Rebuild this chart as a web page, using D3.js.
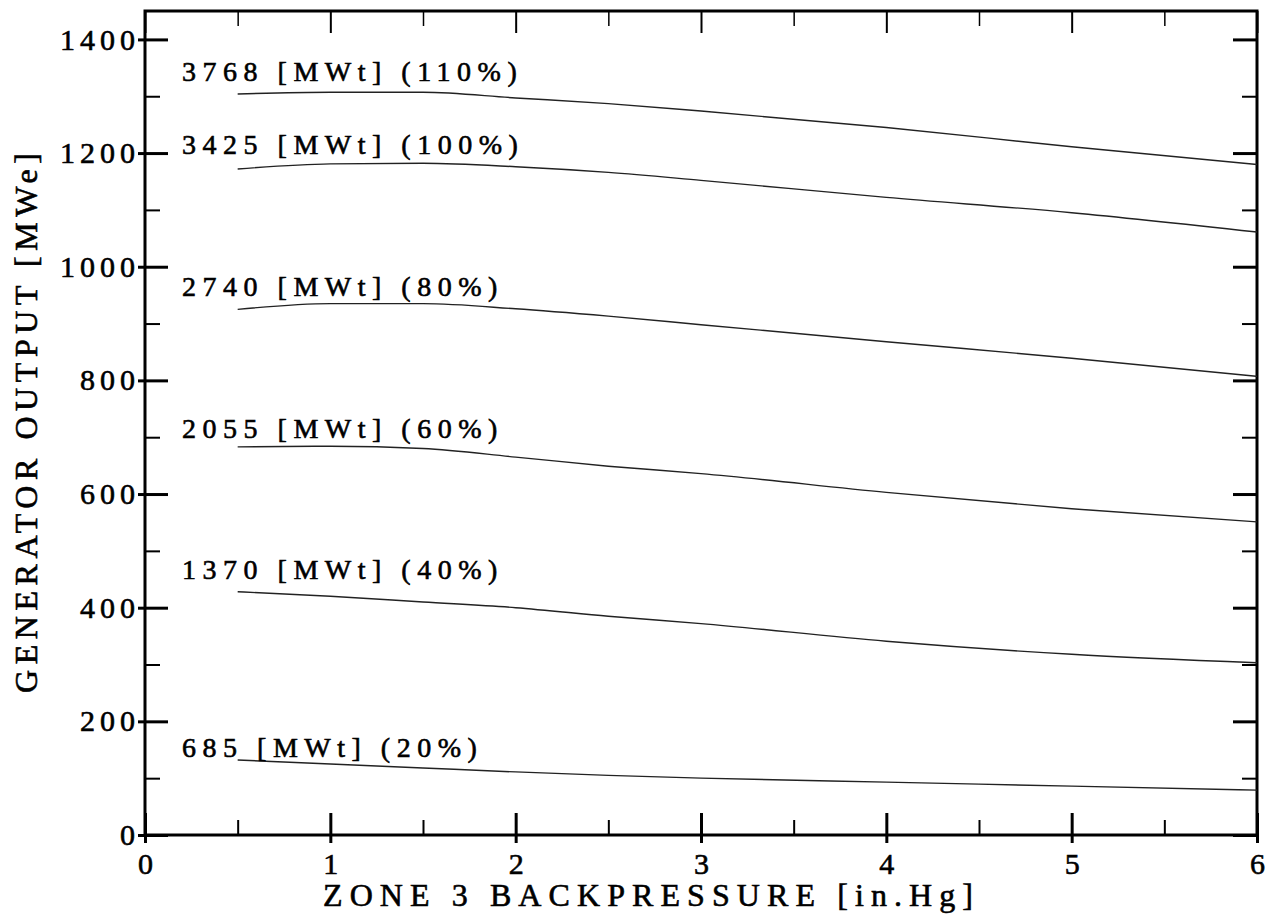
<!DOCTYPE html>
<html>
<head>
<meta charset="utf-8">
<script src="https://cdn.jsdelivr.net/npm/d3@7"></script>
<style>
  body { margin: 0; background: #fff; }
  text { font-family: "Liberation Serif", "DejaVu Serif", serif; fill: #000; stroke: #000; stroke-width: 0.6px; }
</style>
</head>
<body>
<div id="container"></div>
<script>
/* DATA */
const backpressure = [0.5, 1, 1.5, 2, 2.5, 3, 4, 5, 6];

const out110 = [1304, 1307, 1307, 1297, 1287, 1274, 1245, 1211, 1180];
const out100 = [1172, 1181, 1182, 1176, 1166, 1152, 1122, 1095, 1061];
const out80  = [925, 935, 935, 926, 913, 898, 868, 839, 807];
const out60  = [683, 684, 680, 665, 649, 636, 603, 574, 551];
const out40  = [428, 420, 410, 400, 385, 372, 341, 318, 303];
const out20  = [132, 125, 118, 111, 105, 100, 93, 86, 79];

const curveLabels = ["3768 [MWt] (110%)", "3425 [MWt] (100%)", "2740 [MWt] (80%)",
  "2055 [MWt] (60%)", "1370 [MWt] (40%)", "685 [MWt] (20%)"];
const labelX = 0.2;
const labelY = [1326, 1198, 948, 698, 450, 137];

const xTicks = [0, 1, 2, 3, 4, 5, 6];
const xMinor = [0.5, 1.5, 2.5, 3.5, 4.5, 5.5];
const yTicks = [0, 200, 400, 600, 800, 1000, 1200, 1400];
const yMinor = [100, 300, 500, 700, 900, 1100, 1300];

/* CONSTANTS */
const width = 1273, height = 920;
const margin = { top: 11, right: 16, bottom: 85, left: 145 };
const ls = 5; // letter spacing for tick labels

const svg = d3.select("#container").append("svg")
  .attr("width", width)
  .attr("height", height);

const xScale = d3.scaleLinear().domain([0, 6]).range([margin.left, width - margin.right]);
const yScale = d3.scaleLinear().domain([0, 1450]).range([height - margin.bottom, margin.top]);

const x0 = xScale(0), x1 = xScale(6), y0 = yScale(0), y1 = yScale(1450);

function clean(g) {
  g.select(".domain").remove();
  g.selectAll("line").attr("stroke", "#000");
}

// left axis: labels + short outside ticks
svg.append("g")
  .attr("transform", `translate(${x0},0)`)
  .call(d3.axisLeft(yScale).tickValues(yTicks).tickSize(7).tickPadding(3).tickFormat(d3.format("d")))
  .call(clean)
  .call(g => g.selectAll("line").attr("stroke-width", 3))
  .call(g => g.selectAll("text")
    .attr("font-size", 30)
    .attr("letter-spacing", ls).attr("dx", ls)
    .attr("font-family", null));

// left inside ticks
svg.append("g").attr("transform", `translate(${x0},0)`)
  .call(d3.axisRight(yScale).tickValues(yTicks).tickSize(23).tickFormat(""))
  .call(clean).call(g => g.selectAll("line").attr("stroke-width", 3));
svg.append("g").attr("transform", `translate(${x0},0)`)
  .call(d3.axisRight(yScale).tickValues(yMinor).tickSize(15).tickFormat(""))
  .call(clean).call(g => g.selectAll("line").attr("stroke-width", 2));

// right inside ticks
svg.append("g").attr("transform", `translate(${x1},0)`)
  .call(d3.axisLeft(yScale).tickValues(yTicks).tickSize(24).tickFormat(""))
  .call(clean).call(g => g.selectAll("line").attr("stroke-width", 3));
svg.append("g").attr("transform", `translate(${x1},0)`)
  .call(d3.axisLeft(yScale).tickValues(yMinor).tickSize(15).tickFormat(""))
  .call(clean).call(g => g.selectAll("line").attr("stroke-width", 2));

// bottom axis: labels + outside ticks
svg.append("g")
  .attr("transform", `translate(0,${y0})`)
  .call(d3.axisBottom(xScale).tickValues(xTicks).tickSize(8).tickPadding(10).tickFormat(d3.format("d")))
  .call(clean)
  .call(g => g.selectAll("line").attr("stroke-width", 3))
  .call(g => g.selectAll("text")
    .attr("font-size", 30)
    .attr("letter-spacing", ls).attr("dx", ls / 2)
    .attr("font-family", null));

// bottom inside ticks
svg.append("g").attr("transform", `translate(0,${y0})`)
  .call(d3.axisTop(xScale).tickValues(xTicks).tickSize(22).tickFormat(""))
  .call(clean).call(g => g.selectAll("line").attr("stroke-width", 3));
svg.append("g").attr("transform", `translate(0,${y0})`)
  .call(d3.axisTop(xScale).tickValues(xMinor).tickSize(15).tickFormat(""))
  .call(clean).call(g => g.selectAll("line").attr("stroke-width", 2));

// top inside ticks
svg.append("g").attr("transform", `translate(0,${y1})`)
  .call(d3.axisBottom(xScale).tickValues(xTicks).tickSize(22).tickFormat(""))
  .call(clean).call(g => g.selectAll("line").attr("stroke-width", 2));
svg.append("g").attr("transform", `translate(0,${y1})`)
  .call(d3.axisBottom(xScale).tickValues(xMinor).tickSize(15).tickFormat(""))
  .call(clean).call(g => g.selectAll("line").attr("stroke-width", 1.5));

// frame
svg.append("rect")
  .attr("x", x0).attr("y", y1)
  .attr("width", x1 - x0).attr("height", y0 - y1)
  .attr("fill", "none")
  .attr("stroke", "#000")
  .attr("stroke-width", 3);

// curves
const series = [out110, out100, out80, out60, out40, out20];
const line = d3.line()
  .x((d, i) => xScale(backpressure[i]))
  .y(d => yScale(d))
  .curve(d3.curveMonotoneX);

svg.append("g").selectAll("path")
  .data(series)
  .join("path")
  .attr("d", line)
  .attr("fill", "none")
  .attr("stroke", "#222")
  .attr("stroke-width", 1.4);

// curve labels
svg.append("g").selectAll("text")
  .data(curveLabels)
  .join("text")
  .attr("x", xScale(labelX))
  .attr("y", (d, i) => yScale(labelY[i]))
  .attr("font-size", 28)
  .attr("letter-spacing", 6.5)
  .text(d => d);

// axis titles
svg.append("text")
  .attr("x", 323)
  .attr("y", 906)
  .attr("font-size", 32)
  .attr("textLength", 650)
  .attr("lengthAdjust", "spacing")
  .text("ZONE 3 BACKPRESSURE [in.Hg]");

svg.append("text")
  .attr("transform", `translate(37,${(y0 + y1) / 2}) rotate(-90)`)
  .attr("text-anchor", "middle")
  .attr("font-size", 32)
  .attr("textLength", 540)
  .attr("lengthAdjust", "spacing")
  .text("GENERATOR OUTPUT [MWe]");
</script>
</body>
</html>
